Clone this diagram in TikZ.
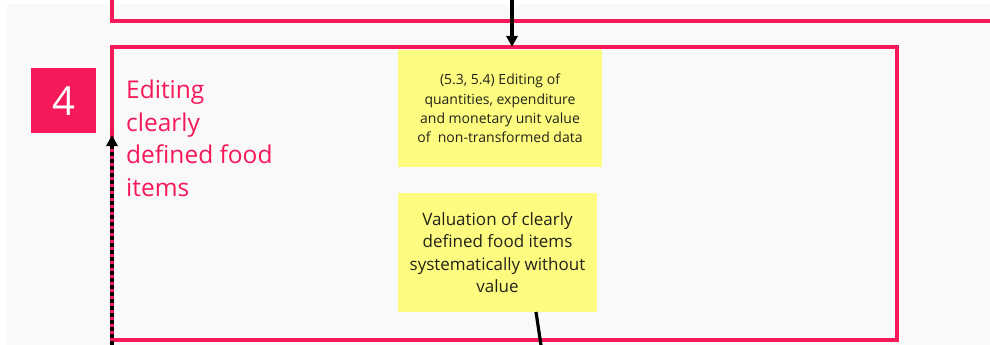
\documentclass[tikz,border=0pt]{standalone}
\usepackage{fontspec}
\setmainfont{Open Sans}
\usetikzlibrary{arrows.meta}
\definecolor{pinkc}{RGB}{245,25,90}
\definecolor{stickyc}{RGB}{253,252,128}
\definecolor{bgc}{RGB}{249,249,250}
\definecolor{inkc}{RGB}{35,35,25}
\tikzset{
  frame/.style={draw=pinkc, line width=3.2pt, inner sep=0pt, outer sep=0pt},
  sticky/.style={fill=stickyc, inner sep=0pt, outer sep=0pt, align=center, text=inkc},
  arr/.style={black, line width=3.2pt, -{Triangle[length=11pt,width=11pt]}},
  dasharr/.style={black, line width=3.2pt, dash pattern=on 4pt off 3pt, -{Triangle[length=11pt,width=11pt]}},
  conn/.style={black, line width=3.2pt},
}
\begin{document}
\begin{tikzpicture}[x=1pt,y=-1pt]
\useasboundingbox (0,0) rectangle (990,345);
\fill[bgc] (7,4) rectangle (990,345);
% previous stage frame (partly visible)
\draw[draw=pinkc, line width=3.2pt] (112,-5) -- (112,21) -- (1000,21);
% main frame
\node[frame, minimum width=785pt, minimum height=293pt, anchor=north west] (main) at (112,47) {};
% step number
\node[fill=pinkc, minimum size=65pt, inner sep=0pt, anchor=north west, text=white,
      font=\fontsize{40}{40}\selectfont] (num) at (31,68) {4};
% title
\node[anchor=north west, align=left, text=pinkc, inner sep=0pt,
      font=\fontsize{24.5}{32.5}\selectfont] (title) at (126,80)
      {Editing\\clearly\\defined food\\items};
% sticky notes
\node[sticky, minimum width=204pt, minimum height=117pt, anchor=north west,
      font=\fontsize{14}{19.3}\selectfont] (stepA) at (398,50)
      {(5.3, 5.4) Editing of\\quantities, expenditure\\and monetary unit value\\of\ \ non-transformed data};
\node[sticky, minimum width=199pt, minimum height=119pt, anchor=north west,
      font=\fontsize{17}{22.3}\selectfont] (stepB) at (398,193)
      {Valuation of clearly\\defined food items\\systematically without\\value};
% connectors
\coordinate (topin) at (512,-3);
\draw[arr] (topin) -- (topin |- main.north);
\coordinate (bstart) at (536,0);
\coordinate (bout) at (542,352);
\draw[conn] (stepB.south -| bstart) -- (bout);
\coordinate (dbot) at (112,352);
\coordinate (dtop) at (112,135);
\draw[dasharr] (dbot) -- (dtop);
\end{tikzpicture}
\end{document}
